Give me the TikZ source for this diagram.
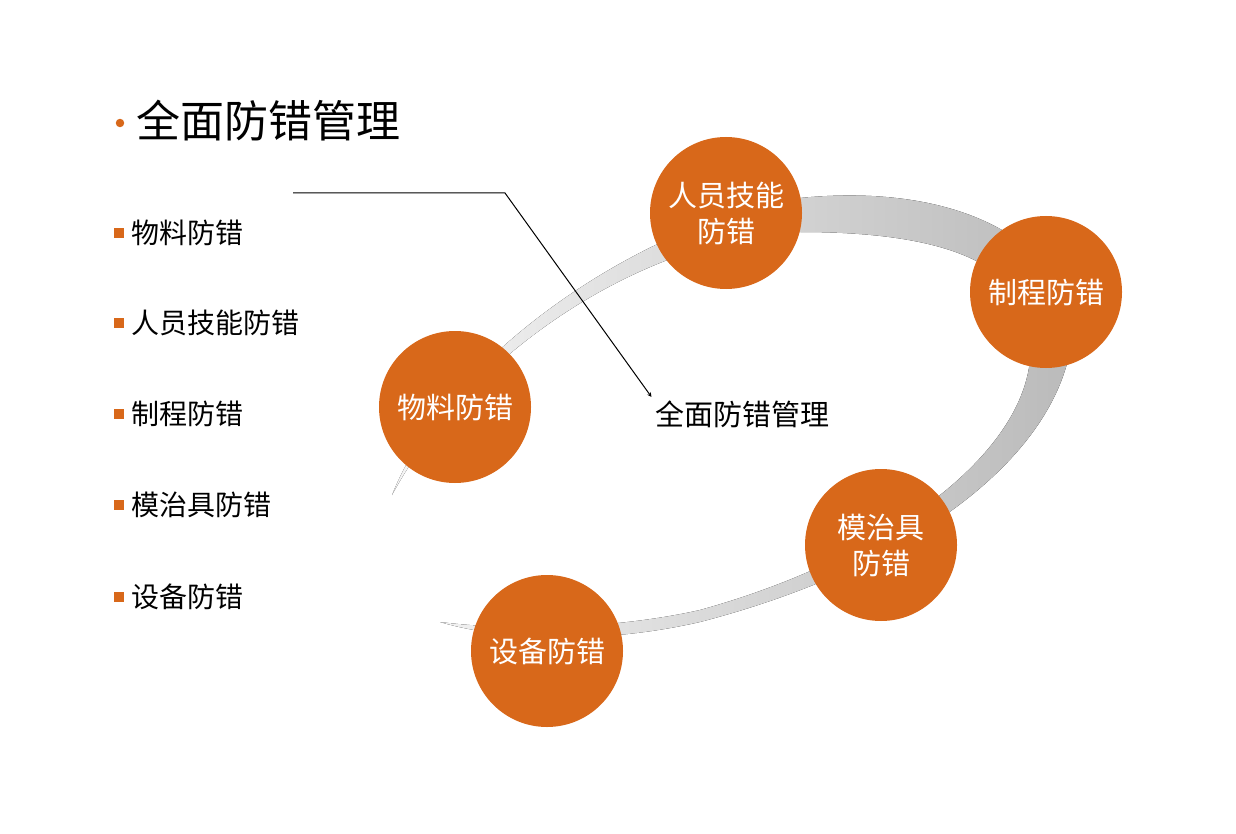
\documentclass[tikz,border=0pt]{standalone}
\usepackage{fontspec}
\setmainfont{Noto Sans CJK SC}
\usetikzlibrary{arrows}
\usetikzlibrary{positioning}
\definecolor{errorange}{HTML}{D8681A}
\tikzstyle{ball} = [circle, fill=errorange, minimum size=152pt, inner sep=0pt, text=white, align=center, font=\fontsize{29}{36}\selectfont]
\tikzstyle{item} = [anchor=west, font=\fontsize{28}{32}\selectfont]
\tikzstyle{sqmark} = [fill=errorange, minimum size=10pt, inner sep=0pt]
\tikzstyle{arrow} = [thick,->,>=stealth]

\begin{document}
\begin{tikzpicture}[x=1pt,y=-1pt]
\useasboundingbox (0,0) rectangle (1236,834);

% ring behind the balls
\fill[left color=gray!8, right color=gray!55]
  (392,495) .. controls (450,350) and (650,220) .. (800,198)
  .. controls (980,180) and (1090,260) .. (1068,360)
  .. controls (1040,470) and (900,570) .. (700,622)
  .. controls (600,645) and (500,640) .. (440,622)
  .. controls (520,632) and (620,628) .. (700,610)
  .. controls (880,560) and (1020,460) .. (1030,360)
  .. controls (1040,270) and (960,232) .. (800,232)
  .. controls (650,235) and (470,350) .. (392,495) -- cycle;

\node [circle, fill=errorange, inner sep=3pt] (dot) at (120,123) {};
\node [anchor=west, font=\fontsize{44}{50}\selectfont] (title) at (133,121) {全面防错管理};

\node [sqmark] (m1) at (119,233) {};
\node [item, right=4pt of m1] (l1) {物料防错};
\node [sqmark] (m2) at (119,323) {};
\node [item, right=4pt of m2] (l2) {人员技能防错};
\node [sqmark] (m3) at (119,414) {};
\node [item, right=4pt of m3] (l3) {制程防错};
\node [sqmark] (m4) at (119,505) {};
\node [item, right=4pt of m4] (l4) {模治具防错};
\node [sqmark] (m5) at (119,597) {};
\node [item, right=4pt of m5] (l5) {设备防错};

\node [ball] (wuliao) at (455,407) {物料防错};
\node [ball] (renyuan) at (726,213) {人员技能\\防错};
\node [ball] (zhicheng) at (1046,292) {制程防错};
\node [ball] (mozhiju) at (881,545) {模治具\\防错};
\node [ball] (shebei) at (547,651) {设备防错};

\node [font=\fontsize{29}{34}\selectfont] (center) at (742,414) {全面防错管理};

\coordinate (start) at (293,193);
\coordinate (bend) at (505,193);
\draw [arrow, line width=1pt] (start) -- (bend) -- (center.north west);

\end{tikzpicture}
\end{document}
